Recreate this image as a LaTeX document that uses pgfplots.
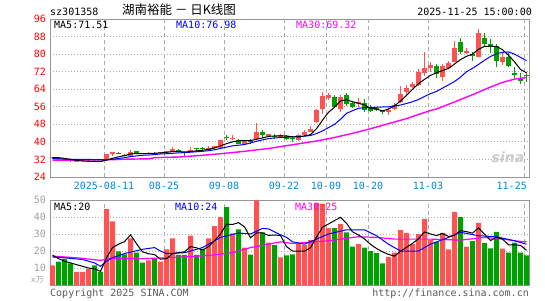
\documentclass[border=0pt]{standalone}
\usepackage{pgfplots}
\pgfplotsset{compat=1.18}
\usepackage{pgfplotstable}
\usepackage{fontspec}
\setmainfont{DejaVu Sans Mono}
\newfontfamily\cjk{Noto Sans CJK SC}
\newfontfamily\sinaf{DejaVu Sans}
\definecolor{cred}{RGB}{255,82,82}
\definecolor{cgreen}{RGB}{0,160,0}
\definecolor{cblue}{RGB}{0,0,255}
\definecolor{cmag}{RGB}{255,0,255}
\definecolor{framegray}{RGB}{150,150,150}
\definecolor{gridgray}{RGB}{170,170,170}
\definecolor{dateblue}{RGB}{0,136,221}
\definecolor{txtgray}{RGB}{90,90,90}
\definecolor{lgray}{RGB}{160,160,160}
\newcommand\mf{\fontsize{10bp}{12bp}\selectfont}

\pgfplotstableread{
i o h l c
0 32.6 33.2 32.3 33.0
4 31.0 31.5 30.8 31.3
5 31.2 31.6 31.0 31.4
6 31.1 31.6 30.8 31.3
9 31.8 34.7 31.6 34.5
10 34.4 35.5 33.6 35.4
13 33.6 36.2 33.4 35.5
16 34.6 35.2 34.3 34.9
18 34.8 35.6 34.6 35.3
19 35.3 36.0 35.1 35.8
20 35.5 37.8 35.3 36.7
23 35.5 37.7 35.3 36.1
26 36.5 38.0 36.3 37.3
27 37.0 38.3 36.8 38.0
28 37.3 40.9 37.1 40.8
30 41.6 43.1 40.8 42.0
32 39.2 40.5 39.0 40.3
34 41.1 48.4 40.9 44.6
36 42.6 43.8 42.4 43.5
38 42.3 43.6 42.1 43.3
41 40.8 43.6 40.6 43.3
42 43.0 45.4 42.8 44.6
43 44.6 47.2 44.4 46.0
44 49.1 54.8 48.8 54.4
45 54.8 62.8 52.5 61.0
46 59.8 62.1 59.2 61.4
48 54.8 61.4 53.8 60.6
51 57.1 59.8 56.0 58.3
56 53.5 55.3 52.2 54.5
57 55.0 57.6 54.5 56.8
58 58.0 65.6 57.6 61.7
59 62.9 65.9 61.4 64.7
60 65.2 67.4 64.4 66.2
61 66.0 73.4 65.6 72.0
62 71.2 81.0 69.8 73.8
63 73.5 76.2 72.0 75.0
65 69.4 75.5 67.8 74.7
66 73.5 77.0 73.0 75.9
67 76.5 86.0 76.2 83.0
69 80.4 83.0 80.0 81.5
71 78.9 91.3 78.5 89.5
75 76.3 80.5 75.0 78.5
}\uptab

\pgfplotstableread{
i o h l c
1 32.8 33.0 32.1 32.3
2 32.2 32.4 31.6 31.8
3 31.6 31.8 30.8 31.2
7 31.3 31.6 30.8 31.1
8 31.2 31.5 30.7 31.0
11 34.9 35.2 34.3 34.6
12 34.2 34.4 33.4 33.6
14 35.8 36.0 34.7 34.9
15 34.9 35.1 34.5 34.6
17 35.0 35.4 34.4 34.7
21 36.5 36.7 35.2 35.4
22 35.4 35.6 33.5 35.1
24 37.1 37.4 35.8 36.8
25 37.1 37.6 35.5 36.8
29 42.1 43.1 40.8 41.8
31 40.8 41.2 38.9 39.2
33 40.4 41.5 39.2 40.1
35 44.6 45.2 41.8 43.0
37 42.8 43.7 41.4 42.5
39 42.7 43.3 40.8 41.2
40 41.9 42.3 40.0 41.6
47 60.6 61.4 55.6 56.0
49 61.4 62.1 56.5 57.1
50 57.6 58.3 55.3 56.0
52 57.6 59.6 53.4 54.5
53 55.6 56.8 53.4 54.1
54 55.3 56.0 54.1 54.6
55 54.0 54.6 52.6 53.6
64 74.7 75.5 68.9 70.9
68 85.3 87.5 80.0 81.0
70 80.0 81.1 77.0 79.2
72 87.5 89.5 83.8 84.5
73 84.5 86.8 80.7 83.5
74 83.5 84.5 74.0 76.8
76 78.6 80.5 74.0 74.5
77 71.3 73.9 68.9 70.3
78 69.2 71.5 66.2 67.9
79 70.4 71.6 67.4 70.0
}\downtab

\pgfplotstableread{
i v
0 11.5
4 7.7
5 7.7
6 9.3
9 44.6
10 37.5
13 27.4
16 14.5
18 13.7
19 21
20 27.4
23 29
26 27.4
27 34.7
28 39.9
30 30.4
32 22
34 49.8
36 25
38 16.2
41 24.4
42 23.4
43 26.4
44 48.2
45 47.8
46 33.5
48 35.9
51 24
56 16.5
57 19
58 32.3
59 30.6
60 24
61 30
62 38.9
63 26.4
65 30.6
66 21
67 43
69 22.6
71 36.5
75 21.4
}\volup

\pgfplotstableread{
i v
1 13.7
2 15.3
3 12.7
7 11.5
8 7.7
11 19.8
12 18
14 19
15 13.1
17 15.5
21 17.7
22 17.7
24 17.7
25 21
29 45.8
31 32.7
33 17.9
35 31
37 23.4
39 17.5
40 18
47 33.5
49 31
50 22.6
52 22
53 20
54 18.7
55 12.7
64 25.4
68 39.9
70 25.8
72 24.6
73 21.6
74 31.2
76 19
77 25
78 19
79 17.5
}\voldown

\pgfplotsset{
  sinapanel/.style={
    scale only axis, anchor=south west,
    width=479.5bp,
    xmin=-0.4167, xmax=79.5,
    xtick=\empty,
    axis line style={framegray, line width=1bp},
    ymajorgrids,
    major grid style={gridgray, dash pattern=on 1bp off 2bp, line width=0.8bp},
    major tick length=0pt,
    /pgf/number format/assume math mode=true,
    extra x ticks={8.6,18.6,28.6,38.6,45.6,52.6,62.6,78.6},
    extra x tick labels={},
    extra x tick style={xmajorgrids=true, major tick length=0pt,
      major grid style={gridgray, dash pattern=on 4bp off 3bp, line width=1bp}},
  },
  wick/.style={draw=none, mark=none, forget plot,
    error bars/.cd, y dir=plus, y explicit, error mark=none,
    error bar style={draw=#1, line width=1bp}},
  body/.style={draw=none, mark=none, forget plot,
    error bars/.cd, y dir=plus, y explicit, error mark=none,
    error bar style={draw=#1, line width=5bp}},
}

\begin{document}
\begin{tikzpicture}[x=1bp,y=1bp]
\useasboundingbox (0,0) rectangle (545,300);

% ---------------- price panel ----------------
\begin{axis}[sinapanel,
  at={(50bp,123bp)}, height=158bp,
  ymin=24, ymax=96, ytick={24,32,...,96},
  yticklabel style={text=red, font=\mf, anchor=east, inner sep=0pt, xshift=-4bp},
]
\addplot[wick=cred] table[x=i, y=l, y error expr=\thisrow{h}-\thisrow{l}] {\uptab};
\addplot[wick=cgreen] table[x=i, y=l, y error expr=\thisrow{h}-\thisrow{l}] {\downtab};
\addplot[body=cred] table[x=i, y=o, y error expr={max(\thisrow{c}-\thisrow{o},0.4)}] {\uptab};
\addplot[body=cgreen] table[x=i, y=c, y error expr={max(\thisrow{o}-\thisrow{c},0.4)}] {\downtab};

% MA30
\addplot[cmag, line width=1.4bp, mark=none] coordinates {
(0,31.7) (4,31.7) (8,31.8) (10,31.9) (12,32.1) (16,32.3) (17,32.8) (21,33.1)
(25,33.9) (28,34.6) (32,35.7) (36,37.0) (40,38.7) (44,40.4) (47,42.0) (50,43.9)
(53,46.0) (56,48.3) (59,50.6) (61,52.5) (63,54.3) (64,55.0) (67,58.2) (70,61.5)
(73,65.0) (75,67.1) (77,68.6) (79,69.3)};
% MA10
\addplot[cblue, line width=1bp, mark=none] coordinates {
(0,32.4) (2,32.2) (4,32.0) (6,32.0) (8,31.9) (9,31.8) (10,32.1) (11,32.4) (12,32.8)
(13,33.3) (14,33.6) (15,33.9) (16,34.0) (17,34.2) (18,34.5) (19,34.6) (20,34.8)
(21,35.0) (22,35.1) (23,35.3) (24,35.5) (25,35.7) (26,36.0) (27,36.4) (28,37.0)
(29,37.6) (30,38.2) (31,38.5) (32,38.8) (33,39.5) (34,40.3) (35,40.9) (36,41.5)
(37,41.8) (38,42.0) (39,42.1) (40,42.3) (41,42.4) (42,42.6) (43,42.9) (44,43.8)
(45,45.0) (46,46.5) (47,48.0) (48,50.3) (49,53.0) (50,54.2) (51,55.3) (52,55.6)
(53,55.7) (54,55.8) (55,55.9) (56,56.0) (57,56.3) (58,56.8) (59,57.5) (60,58.3)
(61,59.3) (62,60.7) (63,62.0) (64,63.0) (65,64.5) (66,66.0) (67,67.5) (68,69.5)
(69,72.0) (70,73.5) (71,75.3) (72,77.2) (73,78.9) (74,80.2) (75,80.8) (76,81.0)
(77,80.0) (78,78.5) (79,77.0)};
% MA5
\addplot[black, line width=1bp, mark=none] coordinates {
(0,32.9) (1,32.8) (2,32.5) (3,32.0) (4,31.6) (5,31.3) (6,31.2) (7,31.1) (8,31.1)
(9,31.7) (10,32.5) (11,33.2) (12,33.7) (13,34.5) (14,34.7) (15,34.6) (16,34.7)
(17,34.8) (18,35.0) (19,35.2) (20,35.6) (21,35.6) (22,35.4) (23,35.6) (24,35.9)
(25,36.2) (26,36.6) (27,37.2) (28,38.2) (29,39.2) (30,40.0) (31,40.5) (32,40.6)
(33,40.6) (34,41.2) (35,41.8) (36,42.5) (37,42.7) (38,42.8) (39,42.7) (40,42.3)
(41,42.3) (42,42.7) (43,43.3) (44,46.0) (45,49.9) (46,53.5) (47,55.8) (48,58.7)
(49,59.2) (50,58.3) (51,57.6) (52,56.8) (53,55.3) (54,55.0) (55,54.1) (56,55.0)
(57,56.5) (58,58.6) (59,61.2) (60,64.0) (61,66.5) (62,68.5) (63,70.3) (64,71.5)
(65,72.5) (66,73.5) (67,75.5) (68,77.5) (69,79.0) (70,80.0) (71,82.2) (72,83.5)
(73,83.6) (74,83.5) (75,82.0) (76,79.5) (77,76.5) (78,73.0) (79,71.5)};
\end{axis}

% ---------------- volume panel ----------------
\begin{axis}[sinapanel,
  at={(50bp,15bp)}, height=85bp,
  ymin=0, ymax=50, ytick={10,20,30,40,50},
  yticklabel style={text=lgray, font=\mf, anchor=east, inner sep=0pt, xshift=-4bp},
]
\addplot[ybar, bar width=5bp, bar shift=0pt, fill=cred, draw=none, forget plot] table[x=i, y=v] {\volup};
\addplot[ybar, bar width=5bp, bar shift=0pt, fill=cgreen, draw=none, forget plot] table[x=i, y=v] {\voldown};
% MA30
\addplot[cmag, line width=1.2bp, mark=none] coordinates {
(0,17) (4,16) (8,14.5) (10,15.7) (15,15.5) (19,16) (24,16.9) (27,17.7) (30,19)
(33,22) (36,24) (38,25.4) (40,24.4) (46,26) (51,28.4) (54,28) (57,27) (63,27)
(68,26.4) (72,28) (75,27) (78,25.6) (79,25.4)};
% MA10
\addplot[cblue, line width=1bp, mark=none] coordinates {
(0,16.5) (2,16) (5,15) (7,13) (8,11) (9,14) (10,16) (12,18.5) (15,21) (17,22)
(18,20) (19,18.5) (22,19) (25,22) (28,28) (31,30.6) (33,30) (35,33.3) (36,33)
(38,29.5) (39,28) (40,25.4) (42,24) (44,27) (46,30) (49,32.5) (52,32.5) (54,29)
(56,24) (58,20) (61,20) (63,24) (66,28) (68,31) (71,29) (74,28.4) (77,26) (79,24)};
% MA5
\addplot[black, line width=1bp, mark=none] coordinates {
(0,17.5) (1,15.5) (2,14) (3,13) (4,12) (5,11) (6,10) (7,9.5) (8,8) (9,16) (10,22)
(11,24) (12,25.5) (13,29.5) (14,24.3) (15,19.5) (16,18.4) (17,17.9) (18,15.2)
(19,15.5) (20,18.4) (21,19) (22,19.5) (23,22.6) (24,21.9) (25,20.6) (26,22.6)
(27,26) (28,30) (29,35.8) (30,35.6) (31,36.7) (32,34.2) (33,27.8) (34,30.6)
(35,30.6) (36,29.2) (37,29.4) (38,29.1) (39,22.6) (40,20) (41,19.9) (42,19.9)
(43,21.9) (44,28.1) (45,34) (46,35.9) (47,37.9) (48,39.8) (49,36.3) (50,31.3)
(51,29.4) (52,27.1) (53,23.9) (54,21.5) (55,19.5) (56,18) (57,17) (58,19.8)
(59,22.2) (60,24.5) (61,27.2) (62,31.2) (63,30) (64,29.1) (65,30.3) (66,28.5)
(67,29.3) (68,32) (69,31.4) (70,30.5) (71,33.6) (72,29.9) (73,26.2) (74,28)
(75,27) (76,23.6) (77,23.6) (78,23.3) (79,20.4)};
\end{axis}

% ---------------- texts ----------------
\node[anchor=base west, inner sep=0pt, font=\mf] at (50,284.8) {sz301358};
\node[anchor=west, inner sep=0pt, font=\cjk\fontsize{12.5bp}{14bp}\selectfont] at (122,290.2) {湖南裕能 － 日K线图};
\node[anchor=base east, inner sep=0pt, font=\mf] at (532,284.1) {2025-11-25 15:00:00};

\node[anchor=base west, inner sep=0pt, font=\mf, text=black] at (54,271.9) {MA5:71.51};
\node[anchor=base west, inner sep=0pt, font=\mf, text=cblue] at (176,271.9) {MA10:76.98};
\node[anchor=base west, inner sep=0pt, font=\mf, text=cmag] at (296,271.9) {MA30:69.32};

\node[anchor=base west, inner sep=0pt, font=\mf, text=black] at (54,89.7) {MA5:20};
\node[anchor=base west, inner sep=0pt, font=\mf, text=cblue] at (175,89.7) {MA10:24};
\node[anchor=base west, inner sep=0pt, font=\mf, text=cmag] at (295,89.7) {MA30:25};

\foreach \xx/\lab in {104/2025-08-11, 164/08-25, 224/09-08, 284/09-22, 326/10-09, 368/10-20, 428/11-03}
  \node[anchor=base, inner sep=0pt, font=\mf, text=dateblue] at (\xx,110.4) {\lab};
\node[anchor=base east, inner sep=0pt, font=\mf, text=dateblue] at (527,110.4) {11-25};

\node[anchor=base east, inner sep=0pt, text=lgray, font=\fontsize{8bp}{9bp}\selectfont] at (44,17.5) {x{\cjk 万}};

\node[anchor=base west, inner sep=0pt, font=\mf, text=txtgray] at (50,3.7) {Copyright 2025 SINA.COM};
\node[anchor=base east, inner sep=0pt, font=\mf, text=txtgray] at (529,3.7) {http://finance.sina.com.cn};

\node[anchor=center, inner sep=0pt, text=gray!40, font=\sinaf\bfseries\itshape\fontsize{14bp}{14bp}\selectfont] at (508,143) {sina};
\end{tikzpicture}
\end{document}
